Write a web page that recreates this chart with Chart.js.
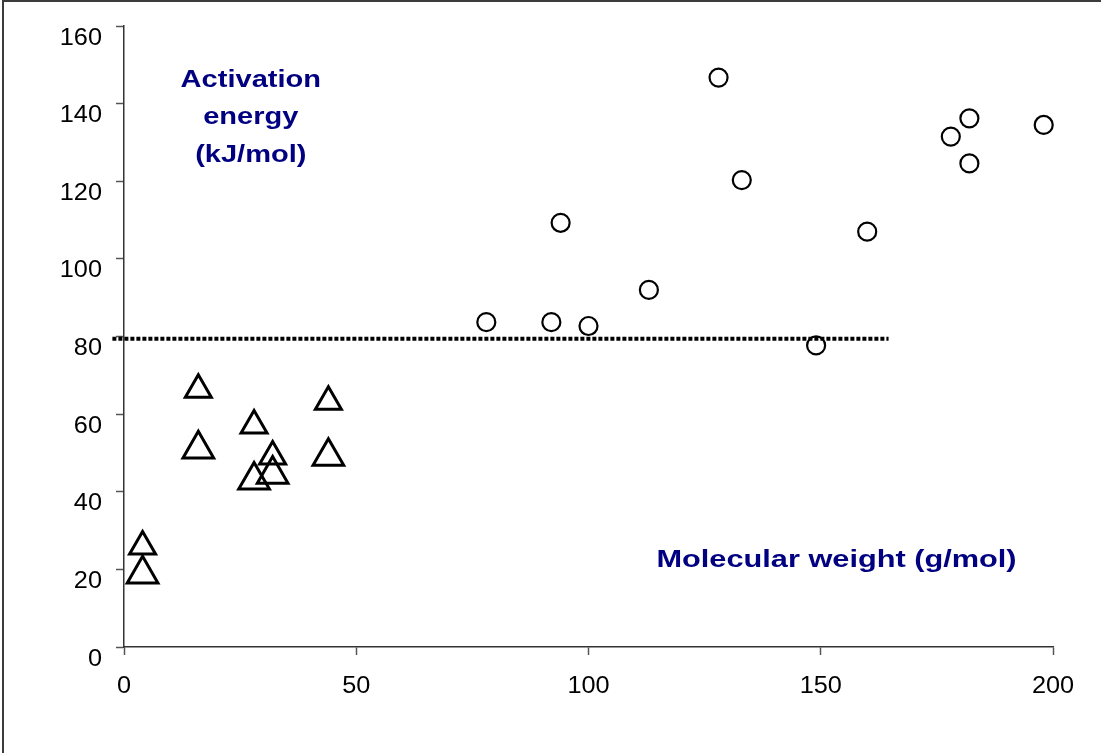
<!DOCTYPE html>
<html>
<head>
<meta charset="utf-8">
<script src="https://cdn.jsdelivr.net/npm/chart.js@4/dist/chart.umd.min.js"></script>
<style>
  html, body { margin: 0; padding: 0; background: #fff; overflow: hidden; }
  #wrap { position: relative; width: 1101px; height: 753px; }
  #chart { position: absolute; left: 0; top: 0; }
  #frame {
    position: absolute; left: 2px; top: 0px; width: 1200px; height: 900px;
    border: 2px solid #3c3c3c; pointer-events: none;
  }
</style>
</head>
<body>
<div id="wrap">
  <canvas id="chart" width="1101" height="753"></canvas>
  <div id="frame"></div>
</div>
<script>
// Data
const lightX = [4, 16, 28, 32, 44];          // small triangles
const lightY = [25.9, 66.3, 57.1, 49.1, 63.2];
const lightLargeX = [4, 16, 28, 32, 44];     // large triangles
const lightLargeY = [18.8, 51.0, 43.0, 44.5, 49.1];
const heavyX = [78, 92, 100, 94, 113, 128, 133, 149, 160, 178, 182, 182, 198]; // circles
const heavyY = [83.7, 83.7, 82.7, 109.3, 92.0, 146.7, 120.3, 77.7, 107.0, 131.5, 136.2, 124.6, 134.5];
const limitX = [-2.5, 164.6];
const limitY = [79.4, 79.4];

const xTicks = [0, 50, 100, 150, 200];
const yTicks = [0, 20, 40, 60, 80, 100, 120, 140, 160];

// annotation text, anchored in data units
const yTitleLines = ["Activation", "energy", "(kJ/mol)"];
const yTitleAt = { x: 27.3, y: 144.4 };
const xTitle = "Molecular weight (g/mol)";
const xTitleAt = { x: 153.4, y: 20.7 };

const pts = (xs, ys) => xs.map((x, i) => ({ x, y: ys[i] }));

// the original text is a little stretched sideways, so draw it by hand
function stretchedText(ctx, text, x, y, sx, align) {
  ctx.save();
  ctx.translate(x, y);
  ctx.scale(sx, 1);
  ctx.textAlign = align;
  ctx.fillText(text, 0, 0);
  ctx.restore();
}

const labelsPlugin = {
  id: "labels",
  afterDraw(chart) {
    const { ctx, scales } = chart;
    const sx = scales.x, sy = scales.y;
    ctx.save();
    ctx.textBaseline = "alphabetic";

    // tick labels
    ctx.fillStyle = "#000";
    ctx.font = "23px 'Liberation Sans', Arial, sans-serif";
    yTicks.forEach((v) => {
      stretchedText(ctx, String(v), sx.left - 22, sy.getPixelForValue(v) + 18.5, 1.1, "right");
    });
    xTicks.forEach((v) => {
      stretchedText(ctx, String(v), sx.getPixelForValue(v), sy.bottom + 45.5, 1.1, "center");
    });

    // titles
    ctx.fillStyle = "#000080";
    ctx.font = "bold 24px 'Liberation Sans', Arial, sans-serif";
    const cx = sx.getPixelForValue(yTitleAt.x);
    const by = sy.getPixelForValue(yTitleAt.y);
    yTitleLines.forEach((t, i) => stretchedText(ctx, t, cx, by + i * 37.5, 1.21, "center"));
    stretchedText(ctx, xTitle, sx.getPixelForValue(xTitleAt.x), sy.getPixelForValue(xTitleAt.y), 1.28, "center");
    ctx.restore();
  },
};

new Chart(document.getElementById("chart"), {
  type: "scatter",
  data: {
    datasets: [
      {
        label: "limit",
        type: "line",
        data: pts(limitX, limitY),
        borderColor: "#000",
        borderWidth: 4,
        borderDash: [4, 2],
        borderCapStyle: "butt",
        pointRadius: 0,
        showLine: true,
        clip: false,
      },
      {
        label: "light small",
        data: pts(lightX, lightY),
        pointStyle: "triangle",
        pointRadius: 15,
        borderColor: "#000",
        backgroundColor: "rgba(0,0,0,0)",
        borderWidth: 3,
        clip: false,
      },
      {
        label: "light large",
        data: pts(lightLargeX, lightLargeY),
        pointStyle: "triangle",
        pointRadius: 17.7,
        borderColor: "#000",
        backgroundColor: "rgba(0,0,0,0)",
        borderWidth: 3,
        clip: false,
      },
      {
        label: "heavy",
        data: pts(heavyX, heavyY),
        pointStyle: "circle",
        pointRadius: 9,
        borderColor: "#000",
        backgroundColor: "#fff",
        borderWidth: 2.2,
        clip: false,
      },
    ],
  },
  options: {
    responsive: false,
    animation: false,
    events: [],
    layout: { padding: { top: 26, right: 48, left: 0, bottom: 0 } },
    plugins: { legend: { display: false }, tooltip: { enabled: false } },
    scales: {
      x: {
        type: "linear",
        min: 0,
        max: 200,
        afterFit: (s) => { s.height = 106; },
        afterBuildTicks: (s) => { s.ticks = xTicks.map((v) => ({ value: v })); },
        ticks: { display: false },
        grid: { drawOnChartArea: false, drawTicks: true, tickLength: 8, tickColor: "#555", tickWidth: 1.5 },
        border: { display: true, color: "#333", width: 1.5 },
      },
      y: {
        type: "linear",
        min: 0,
        max: 160,
        afterFit: (s) => { s.width = 124; },
        afterBuildTicks: (s) => { s.ticks = yTicks.map((v) => ({ value: v })); },
        ticks: { display: false },
        grid: { drawOnChartArea: false, drawTicks: true, tickLength: 8, tickColor: "#555", tickWidth: 1.5 },
        border: { display: true, color: "#333", width: 1.5 },
      },
    },
  },
  plugins: [labelsPlugin],
});
</script>
</body>
</html>
